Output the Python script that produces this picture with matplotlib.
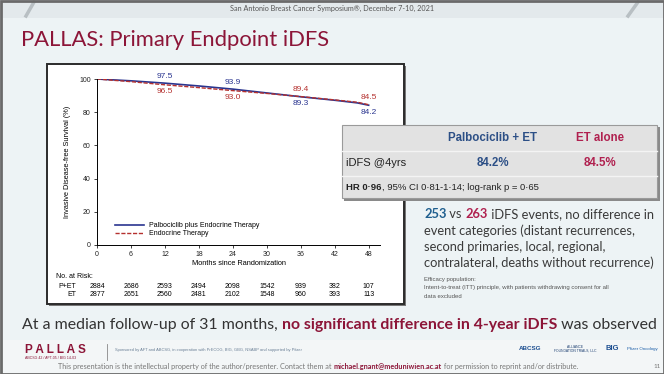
import matplotlib
matplotlib.use("Agg")
import matplotlib.pyplot as plt
from matplotlib.patches import Rectangle
from matplotlib.lines import Line2D

# ---- data ----
months = [0, 6, 12, 18, 24, 30, 36, 42, 46, 48]
pet_surv = [100, 98.9, 97.5, 95.8, 93.9, 91.6, 89.3, 87.2, 85.6, 84.2]
et_surv = [100, 98.4, 96.5, 94.8, 93.0, 91.3, 89.4, 87.4, 86.0, 84.5]

label_months = [12, 24, 36, 48]
pet_labels = [97.5, 93.9, 89.3, 84.2]
et_labels = [96.5, 93.0, 89.4, 84.5]

risk_months = [0, 6, 12, 18, 24, 30, 36, 42, 48]
risk_pet = [2884, 2686, 2593, 2494, 2098, 1542, 939, 382, 107]
risk_et = [2877, 2651, 2560, 2481, 2102, 1548, 960, 393, 113]

BLUE = "#2a3590"
RED = "#b5312f"
CRIMSON = "#8c1538"
GREY_TXT = "#3a3a3a"
W, H = 664, 374

fig = plt.figure(figsize=(W / 100, H / 100), dpi=100)
fig.patch.set_facecolor("#edf3f5")


def fx(x):
    return x / W


def fy(y):
    return 1 - y / H


def rect(x0, y0, x1, y1, **kw):
    r = Rectangle((fx(x0), fy(y1)), (x1 - x0) / W, (y1 - y0) / H,
                  transform=fig.transFigure, **kw)
    fig.add_artist(r)
    return r


def segments(x, y, parts, size, family, **kw):
    # draw consecutive text pieces with their own colours / weights
    r = fig.canvas.get_renderer()
    for txt, color, weight in parts:
        t = fig.text(fx(x), fy(y), txt, color=color, fontweight=weight,
                     fontsize=size, family=family, va="center", ha="left", **kw)
        bb = t.get_window_extent(renderer=r)
        x += bb.width


# slide header band and frame
rect(0, 0, W, 18, facecolor="#e3e9ec", edgecolor="none", zorder=-5)
rect(0, 340, W, H, facecolor="#f3f6f7", edgecolor="none", zorder=-5)
rect(0.5, 0.5, W - 0.5, H - 0.5, facecolor="none", edgecolor="#6a6a6a", lw=2, zorder=20)
fig.add_artist(Line2D([fx(26), fx(34)], [fy(16), fy(2)], transform=fig.transFigure,
                      color="#b8bfc3", lw=2.5, zorder=-4))
fig.add_artist(Line2D([fx(628), fx(638)], [fy(16), fy(2)], transform=fig.transFigure,
                      color="#b8bfc3", lw=2.5, zorder=-4))

fig.text(0.5, fy(8), "San Antonio Breast Cancer Symposium®, December 7-10, 2021",
         ha="center", va="center", fontsize=5.2, color="#555555", family="Lato")
fig.text(fx(21), fy(40), "PALLAS: Primary Endpoint iDFS", ha="left", va="center",
         fontsize=15.8, color=CRIMSON, family="Lato")

# chart panel
rect(49, 66, 406, 306, facecolor="#777777", edgecolor="none", zorder=0.5)
rect(47, 64, 404, 304, facecolor="white", edgecolor="#2b2b2b", lw=1.4, zorder=0.6)

ax = fig.add_axes([fx(97), fy(245), 283 / W, 166 / H])
ax.set_zorder(1)
ax.patch.set_visible(False)
ax.plot(months, pet_surv, color=BLUE, lw=1.2, label="Palbociclib plus Endocrine Therapy")
ax.plot(months, et_surv, color=RED, lw=1.0, ls=(0, (3, 1.2)), label="Endocrine Therapy")
ax.set_xlim(0, 50)
ax.set_ylim(0, 100)
ax.set_xticks(risk_months)
ax.set_yticks([0, 20, 40, 60, 80, 100])
ax.tick_params(labelsize=5, length=2.5, width=0.6, pad=2, colors="#222222")
for s in ["top", "right"]:
    ax.spines[s].set_visible(False)
for s in ["left", "bottom"]:
    ax.spines[s].set_linewidth(0.7)
for lab in ax.get_xticklabels() + ax.get_yticklabels():
    lab.set_family("Liberation Sans")
ax.set_xlabel("Months since Randomization", fontsize=5.3, labelpad=1.5, family="Liberation Sans")
ax.set_ylabel("Invasive Disease-free Survival (%)", fontsize=5.3, labelpad=6, family="Liberation Sans")

for m, pv, ev in zip(label_months, pet_labels, et_labels):
    above_pet = pv > ev
    ax.annotate(f"{pv:.1f}", (m, pv), xytext=(0, 5 if above_pet else -5), textcoords="offset points",
                ha="center", va="center", color=BLUE, fontsize=6, family="Liberation Sans")
    ax.annotate(f"{ev:.1f}", (m, ev), xytext=(0, -5 if above_pet else 5), textcoords="offset points",
                ha="center", va="center", color=RED, fontsize=6, family="Liberation Sans")

ax.legend(loc="lower left", bbox_to_anchor=(0.04, 0.01), frameon=False, handlelength=4.2,
          labelspacing=0.15, prop={"family": "Liberation Sans", "size": 5})

tr = ax.get_xaxis_transform()
ax.text(-7.3, (245 - 277) / 166, "No. at Risk:", transform=tr, ha="left", va="center",
        fontsize=5, family="Liberation Sans")
ax.text(-3.7, (245 - 286) / 166, "P+ET", transform=tr, ha="right", va="center",
        fontsize=5, family="Liberation Sans")
ax.text(-3.7, (245 - 295) / 166, "ET", transform=tr, ha="right", va="center",
        fontsize=5, family="Liberation Sans")
for m, a, b in zip(risk_months, risk_pet, risk_et):
    ax.text(m, (245 - 286) / 166, str(a), transform=tr, ha="center", va="center",
            fontsize=5, family="Liberation Sans")
    ax.text(m, (245 - 295) / 166, str(b), transform=tr, ha="center", va="center",
            fontsize=5, family="Liberation Sans")

# results table box
rect(344, 127, 660, 201, facecolor="#8a8a8a", edgecolor="none", zorder=4)
rect(342, 125, 657, 198, facecolor="#e2e2e2", edgecolor="#9a9a9a", lw=0.8, zorder=5)
for yy in (151, 176):
    fig.add_artist(Line2D([fx(342), fx(657)], [fy(yy), fy(yy)], transform=fig.transFigure,
                          color="#f4f4f4", lw=1, zorder=6))
narrow = "Liberation Sans"
fig.text(fx(492), fy(138), "Palbociclib + ET", ha="center", va="center", fontsize=8.3,
         fontweight="bold", color="#2c4f86", family=narrow, zorder=7)
fig.text(fx(600), fy(138), "ET alone", ha="center", va="center", fontsize=8.3,
         fontweight="bold", color="#b0204f", family=narrow, zorder=7)
fig.text(fx(346), fy(163), "iDFS @4yrs", ha="left", va="center", fontsize=8,
         color="#222222", family=narrow, zorder=7)
fig.text(fx(493), fy(163), "84.2%", ha="center", va="center", fontsize=8.3,
         fontweight="bold", color="#2c4f86", family=narrow, zorder=7)
fig.text(fx(600), fy(163), "84.5%", ha="center", va="center", fontsize=8.3,
         fontweight="bold", color="#b0204f", family=narrow, zorder=7)
segments(346, 188, [("HR 0·96", "#222222", "bold"),
                    (", 95% CI 0·81-1·14; log-rank p = 0·65", "#222222", "normal")],
         6.8, narrow, zorder=7)

# right-hand notes
segments(424, 214, [("253", "#1f5f8f", "bold"), (" vs ", GREY_TXT, "normal"),
                    ("263", "#b0204f", "bold"),
                    (" iDFS events, no difference in", GREY_TXT, "normal")], 9.3, "Lato")
for yy, line in [(231, "event categories (distant recurrences,"),
                 (247, "second primaries, local, regional,"),
                 (263, "contralateral, deaths without recurrence)")]:
    fig.text(fx(424), fy(yy), line, ha="left", va="center", fontsize=9.3,
             color=GREY_TXT, family="Lato")
for yy, line in [(279, "Efficacy population:"),
                 (288, "Intent-to-treat (ITT) principle, with patients withdrawing consent for all"),
                 (297, "data excluded")]:
    fig.text(fx(424), fy(yy), line, ha="left", va="center", fontsize=4.3,
             color="#555555", family="Liberation Sans")

# conclusion line
segments(22, 325, [("At a median follow-up of 31 months, ", "#333333", "normal"),
                   ("no significant difference in 4-year iDFS", CRIMSON, "bold"),
                   (" was observed", "#333333", "normal")], 11.4, "Lato")

# footer
fig.text(fx(25), fy(350), "P A L L A S", ha="left", va="center", fontsize=8.5,
         fontweight="bold", color=CRIMSON, family="Liberation Sans")
fig.text(fx(25), fy(358), "ABCSG 42 / AFT-05 / BIG 14-03", ha="left", va="center",
         fontsize=2.6, color=CRIMSON, family="Liberation Sans")
fig.add_artist(Line2D([fx(107), fx(107)], [fy(344), fy(360)], transform=fig.transFigure,
                      color="#888888", lw=0.6))
fig.text(fx(115), fy(350), "Sponsored by AFT and ABCSG, in cooperation with PrECOG, BIG, GBG, "
         "NSABP and supported by Pfizer", ha="left", va="center", fontsize=2.9,
         color="#6a7f96", family="Liberation Sans")
segments(58, 366, [("This presentation is the intellectual property of the author/presenter. "
                    "Contact them at ", "#777777", "normal"),
                   ("michael.gnant@meduniwien.ac.at", CRIMSON, "bold"),
                   (" for permission to reprint and/or distribute.", "#777777", "normal")],
         5.2, "Lato")
fig.text(fx(657), fy(366), "11", ha="center", va="center", fontsize=4.5,
         color="#777777", family="Lato")
fig.text(fx(530), fy(349), "ABCSG", ha="center", va="center", fontsize=4.5,
         fontweight="bold", color="#1d4f91", family="Liberation Sans")
fig.text(fx(575), fy(349), "ALLIANCE\nFOUNDATION TRIALS, LLC", ha="center", va="center",
         fontsize=2.4, color="#1d3f71", family="Liberation Sans", linespacing=1.0)
fig.text(fx(612), fy(349), "BIG", ha="center", va="center", fontsize=5.5,
         fontweight="bold", color="#1d4f91", family="Liberation Sans")
fig.text(fx(642), fy(349), "Pfizer Oncology", ha="center", va="center", fontsize=3.2,
         color="#1d5fa9", family="Liberation Sans")

fig.savefig("out.png", dpi=100, facecolor=fig.get_facecolor())
